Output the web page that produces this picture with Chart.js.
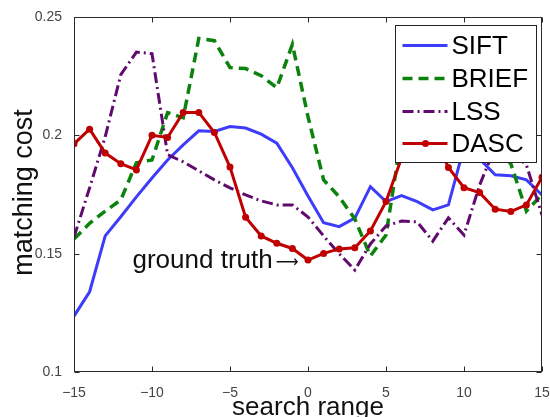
<!DOCTYPE html>
<html>
<head>
<meta charset="utf-8">
<script src="https://cdn.jsdelivr.net/npm/chart.js@4.4.1/dist/chart.umd.min.js"></script>
<style>
  html, body { margin: 0; padding: 0; background: #ffffff; }
  #wrap { width: 550px; height: 417px; }
</style>
</head>
<body>
<div id="wrap"><canvas id="c" width="550" height="417"></canvas></div>
<script>
// Search offsets (pixels) and the matching cost of each descriptor
const searchRange = [-15, -14, -13, -12, -11, -10, -9, -8, -7, -6, -5, -4, -3, -2, -1, 0,
                     1, 2, 3, 4, 5, 6, 7, 8, 9, 10, 11, 12, 13, 14, 15];

const siftCost  = [0.1236, 0.1339, 0.1575, 0.1656, 0.1740, 0.1820, 0.1896, 0.1960, 0.2019, 0.2016,
                   0.2037, 0.2031, 0.2005, 0.1967, 0.1863, 0.1744, 0.1631, 0.1614, 0.1650, 0.1783,
                   0.1720, 0.1745, 0.1720, 0.1685, 0.1706, 0.1950, 0.1900, 0.1833, 0.1829, 0.1812,
                   0.1748];
const briefCost = [0.1562, 0.1628, 0.1680, 0.1727, 0.1884, 0.1896, 0.2096, 0.2074, 0.2409, 0.2400,
                   0.2286, 0.2282, 0.2252, 0.2201, 0.2384, 0.2079, 0.1812, 0.1740, 0.1647, 0.1490,
                   0.1579, 0.2000, 0.2050, 0.1980, 0.2000, 0.2030, 0.1980, 0.1950, 0.1880, 0.1680,
                   0.1750];
const lssCost   = [0.1570, 0.1778, 0.1994, 0.2256, 0.2352, 0.2345, 0.1918, 0.1888, 0.1850, 0.1812,
                   0.1778, 0.1748, 0.1723, 0.1706, 0.1706, 0.1655, 0.1575, 0.1500, 0.1431, 0.1541,
                   0.1617, 0.1638, 0.1634, 0.1553, 0.1651, 0.1579, 0.1790, 0.1950, 0.1930, 0.1875,
                   0.1663];
const dascCost  = [0.1964, 0.2026, 0.1925, 0.1880, 0.1854, 0.2000, 0.1991, 0.2097, 0.2097, 0.2012,
                   0.1866, 0.1654, 0.1575, 0.1544, 0.1522, 0.1473, 0.1501, 0.1520, 0.1525, 0.1596,
                   0.1720, 0.1905, 0.2000, 0.2005, 0.1864, 0.1779, 0.1758, 0.1688, 0.1678, 0.1706,
                   0.1823];

const seriesNames = ['SIFT', 'BRIEF', 'LSS', 'DASC'];
const xTickValues = [-15, -10, -5, 0, 5, 10, 15];
const yTickValues = [0.1, 0.15, 0.2, 0.25];

const COLORS = { SIFT: '#3c3cfa', BRIEF: '#0b820b', LSS: '#600a6e', DASC: '#c00000' };
const DASHES = { SIFT: [], BRIEF: [10, 6], LSS: [11, 4, 2, 4], DASC: [] };
const FONT = '"Liberation Sans", Arial, Helvetica, sans-serif';

const toPoints = arr => searchRange.map((x, i) => ({ x: x, y: arr[i] }));

function fmtNum(v) {
  const s = String(Number(v.toFixed(2)));
  return s.replace('-', '\u2212');
}

// Box frame with inward tick marks on all four sides
const framePlugin = {
  id: 'frame',
  afterDatasetsDraw(chart) {
    const { ctx, chartArea: a, scales: { x, y } } = chart;
    const L = Math.round(a.left) + 0.5, R = Math.round(a.right) - 0.5;
    const T = Math.round(a.top) + 0.5, B = Math.round(a.bottom) - 0.5;
    ctx.save();
    ctx.strokeStyle = '#2a2a2a';
    ctx.lineWidth = 1;
    ctx.strokeRect(L, T, R - L, B - T);
    ctx.beginPath();
    const len = 5;
    xTickValues.forEach(v => {
      const px = Math.round(x.getPixelForValue(v)) + 0.5;
      ctx.moveTo(px, B); ctx.lineTo(px, B - len);
      ctx.moveTo(px, T); ctx.lineTo(px, T + len);
    });
    yTickValues.forEach(v => {
      const py = Math.round(y.getPixelForValue(v)) + 0.5;
      ctx.moveTo(L, py); ctx.lineTo(L + len, py);
      ctx.moveTo(R, py); ctx.lineTo(R - len, py);
    });
    ctx.stroke();
    ctx.restore();
  }
};

// Axis titles, the ground-truth note and the boxed legend
const textPlugin = {
  id: 'texts',
  afterDraw(chart) {
    const { ctx, chartArea: a, scales: { x, y } } = chart;
    ctx.save();
    ctx.fillStyle = '#111111';

    // y-axis title
    ctx.save();
    ctx.translate(25, (a.top + a.bottom) / 2 - 2);
    ctx.rotate(-Math.PI / 2);
    ctx.font = '27px ' + FONT;
    ctx.textAlign = 'center';
    ctx.textBaseline = 'middle';
    ctx.fillText('matching cost', 0, 0);
    ctx.restore();

    // x-axis title
    ctx.font = '26px ' + FONT;
    ctx.textAlign = 'center';
    ctx.textBaseline = 'alphabetic';
    ctx.fillText('search range', (a.left + a.right) / 2, 415);

    // ground truth note, pointing at offset 0
    const noteY = y.getPixelForValue(0.1439);
    const arrowEnd = x.getPixelForValue(-0.6);
    ctx.font = '16px "DejaVu Sans", sans-serif';
    ctx.textAlign = 'right';
    ctx.textBaseline = 'alphabetic';
    ctx.fillText('\u27F6', arrowEnd, noteY - 1);
    const arrowW = ctx.measureText('\u27F6').width;
    ctx.font = '26px ' + FONT;
    ctx.fillText('ground truth', arrowEnd - arrowW - 3, noteY);

    // legend
    const bx = Math.round(a.right) - 5.5, by = Math.round(a.top) + 8.5;
    const bw = 141, bh = 137;
    const left = bx - bw;
    ctx.fillStyle = '#ffffff';
    ctx.fillRect(left, by, bw, bh);
    ctx.strokeStyle = '#222222';
    ctx.lineWidth = 1;
    ctx.strokeRect(left, by, bw, bh);
    const rows = [20, 53, 86, 118];
    seriesNames.forEach((name, i) => {
      const ry = by + rows[i];
      ctx.save();
      ctx.strokeStyle = COLORS[name];
      ctx.lineWidth = name === 'BRIEF' ? 3.5 : 3;
      ctx.setLineDash(DASHES[name]);
      ctx.beginPath();
      ctx.moveTo(left + 7, ry);
      ctx.lineTo(left + 52, ry);
      ctx.stroke();
      if (name === 'DASC') {
        ctx.setLineDash([]);
        ctx.fillStyle = COLORS[name];
        ctx.beginPath();
        ctx.arc(left + 30, ry, 3.5, 0, Math.PI * 2);
        ctx.fill();
      }
      ctx.restore();
      ctx.fillStyle = '#000000';
      ctx.font = '26px ' + FONT;
      ctx.textAlign = 'left';
      ctx.textBaseline = 'middle';
      ctx.fillText(name, left + 56, ry + 1);
    });
    ctx.restore();
  }
};

const dataByName = { SIFT: siftCost, BRIEF: briefCost, LSS: lssCost, DASC: dascCost };
const drawOrder = { SIFT: 3, BRIEF: 2, LSS: 1, DASC: 0 };

new Chart(document.getElementById('c'), {
  type: 'line',
  data: {
    datasets: seriesNames.map(name => ({
      label: name,
      data: toPoints(dataByName[name]),
      borderColor: COLORS[name],
      backgroundColor: COLORS[name],
      borderWidth: name === 'BRIEF' ? 3.5 : 3,
      borderDash: DASHES[name],
      pointRadius: name === 'DASC' ? 3.5 : 0,
      pointBorderWidth: 0,
      tension: 0,
      fill: false,
      order: drawOrder[name]
    }))
  },
  options: {
    responsive: false,
    animation: false,
    devicePixelRatio: 1,
    layout: { padding: { top: 17, right: 8, bottom: 0, left: 0 } },
    plugins: { legend: { display: false }, tooltip: { enabled: false } },
    scales: {
      x: {
        type: 'linear', min: -15, max: 15,
        grid: { display: false }, border: { display: false },
        afterBuildTicks: s => { s.ticks = xTickValues.map(v => ({ value: v })); },
        afterFit: s => { s.height = 45; s.paddingLeft = 0; s.paddingRight = 0; },
        ticks: { padding: 5, color: '#444444', font: { family: FONT, size: 14 },
                 maxRotation: 0, autoSkip: false, callback: v => fmtNum(v) }
      },
      y: {
        type: 'linear', min: 0.1, max: 0.25,
        grid: { display: false }, border: { display: false },
        afterBuildTicks: s => { s.ticks = yTickValues.map(v => ({ value: v })); },
        afterFit: s => { s.width = 74; s.paddingTop = 0; s.paddingBottom = 0; },
        ticks: { padding: 4, color: '#444444', font: { family: FONT, size: 14 },
                 autoSkip: false, callback: v => fmtNum(v) }
      }
    }
  },
  plugins: [framePlugin, textPlugin]
});
</script>
</body>
</html>
